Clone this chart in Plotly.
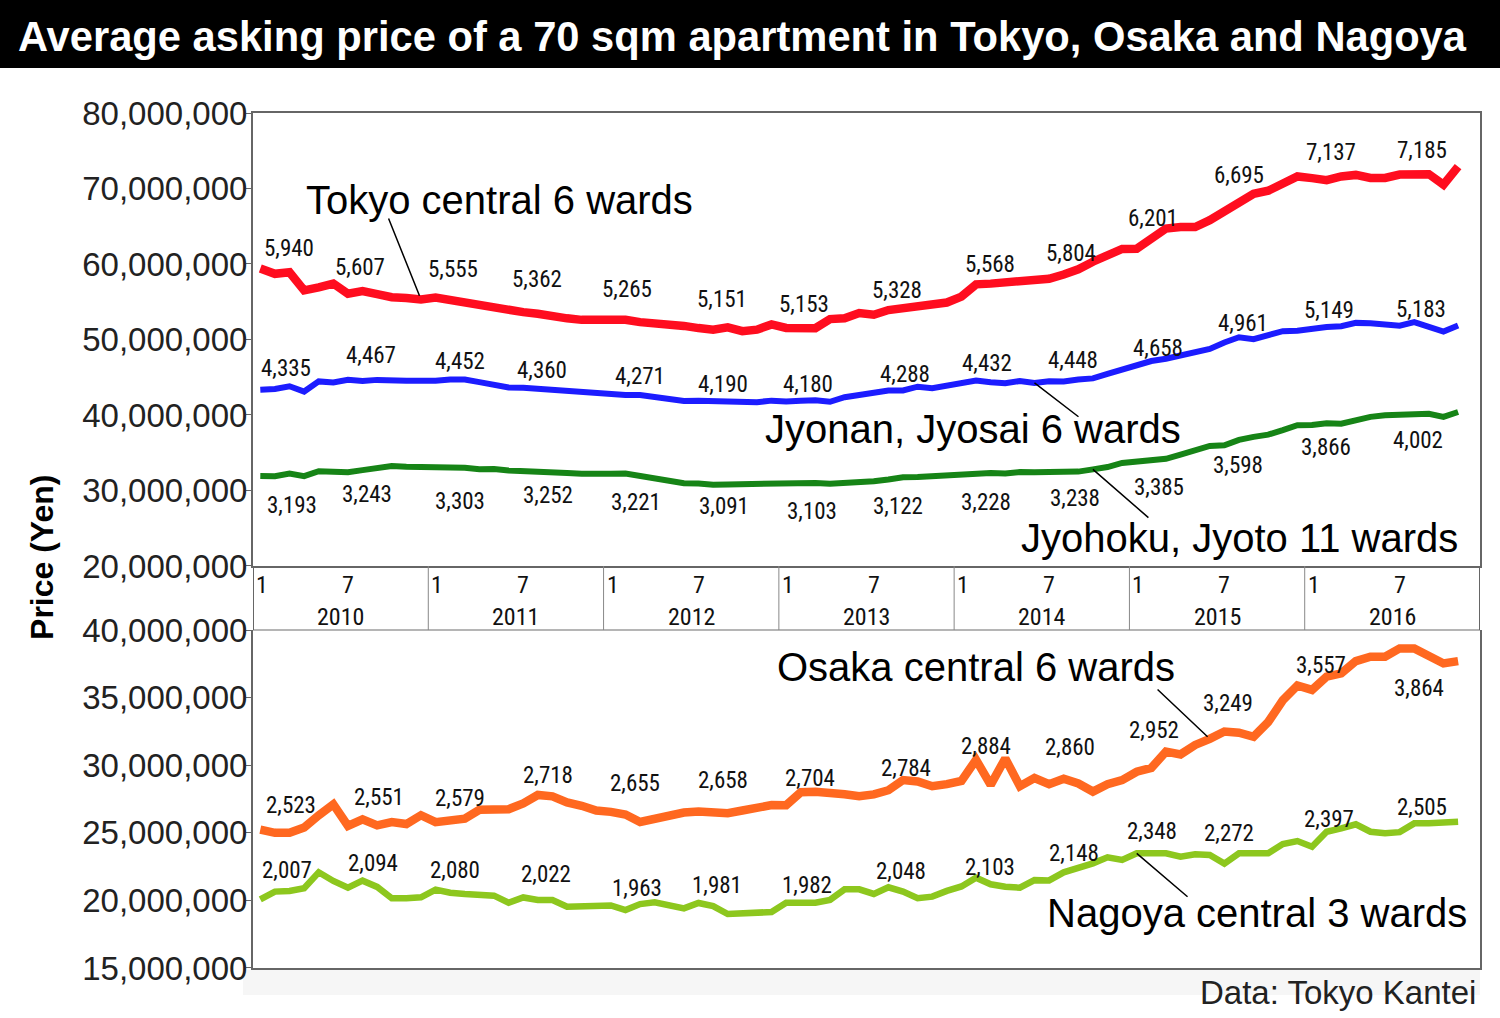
import plotly.graph_objects as go

# ---------------- data ----------------
years = [2010, 2011, 2012, 2013, 2014, 2015, 2016]
months = [f"{y}-{m:02d}" for y in years for m in range(1, 13)][:83]   # Jan 2010 .. Nov 2016

# million yen
tokyo6 = [59.40, 58.7, 58.9, 56.5, 56.9, 57.4, 56.07, 56.4, 56.0, 55.6, 55.5, 55.3,
          55.55, 55.2, 55.1, 54.7, 54.4, 53.8, 53.62, 53.4, 53.0, 52.8, 52.6, 52.6,
          52.65, 52.6, 52.3, 52.2, 52.1, 51.8, 51.51, 51.3, 51.6, 51.1, 51.3, 52.0,
          51.53, 51.5, 51.5, 52.7, 52.8, 53.5, 53.28, 53.9, 54.1, 54.5, 54.7, 54.9,
          55.68, 57.3, 57.4, 57.5, 57.8, 57.7, 58.04, 58.6, 59.3, 60.3, 61.3, 62.0,
          62.01, 63.4, 64.7, 64.9, 64.9, 65.8, 66.95, 68.3, 69.3, 69.7, 70.7, 71.6,
          71.37, 71.1, 71.6, 71.8, 71.4, 71.4, 71.85, 72.0, 71.9, 70.5, 72.9]
jyonan6 = [43.35, 43.45, 43.8, 43.1, 44.45, 44.3, 44.67, 44.5, 44.65, 44.55, 44.55, 44.55,
           44.52, 44.7, 44.7, 44.35, 43.95, 43.65, 43.60, 43.45, 43.35, 43.25, 43.0, 42.85,
           42.71, 42.65, 42.65, 42.35, 42.25, 41.85, 41.90, 41.85, 41.75, 41.75, 41.7, 41.9,
           41.80, 41.9, 41.95, 41.75, 42.35, 42.65, 42.88, 43.25, 43.25, 43.75, 43.55, 43.95,
           44.32, 44.55, 44.35, 44.2, 44.5, 44.25, 44.48, 44.45, 44.7, 44.85, 45.45, 46.05,
           46.58, 47.15, 47.45, 47.85, 48.45, 48.75, 49.61, 50.3, 50.05, 50.55, 51.1, 51.15,
           51.49, 51.65, 51.75, 52.2, 52.15, 51.95, 51.83, 52.3, 51.75, 51.05, 51.85]
jyohoku11 = [31.93, 31.9, 32.25, 31.9, 32.55, 32.4, 32.43, 32.7, 32.95, 33.25, 33.15, 33.1,
             33.03, 33.15, 33.0, 32.8, 32.85, 32.65, 32.52, 32.55, 32.45, 32.3, 32.2, 32.15,
             32.21, 32.25, 31.95, 31.5, 31.2, 30.95, 30.91, 30.75, 30.8, 30.85, 30.9, 30.95,
             31.03, 31.05, 31.0, 30.9, 30.95, 31.05, 31.22, 31.45, 31.75, 31.8, 31.9, 32.0,
             32.28, 32.35, 32.3, 32.25, 32.45, 32.4, 32.38, 32.4, 32.5, 32.8, 33.1, 33.65,
             33.85, 34.0, 34.2, 34.75, 35.25, 35.9, 35.98, 36.7, 37.1, 37.4, 38.0, 38.65,
             38.66, 38.9, 38.85, 39.35, 39.75, 39.95, 40.02, 40.05, 40.15, 39.75, 40.4]
osaka6 = [25.23, 25.0, 25.0, 25.4, 26.3, 27.1, 25.51, 26.0, 25.55, 25.8, 25.65, 26.3,
          25.79, 25.85, 26.05, 26.7, 26.8, 26.75, 27.18, 27.8, 27.7, 27.25, 27.0, 26.65,
          26.55, 26.35, 25.8, 26.05, 26.2, 26.5, 26.58, 26.56, 26.45, 26.65, 26.8, 27.05,
          27.04, 28.0, 28.04, 28.0, 27.85, 27.7, 27.84, 28.15, 28.9, 28.8, 28.45, 28.6,
          28.84, 30.4, 28.55, 30.5, 28.45, 29.05, 28.60, 29.0, 28.65, 28.05, 28.6, 28.9,
          29.52, 29.8, 31.0, 30.8, 31.5, 31.95, 32.49, 32.4, 32.1, 33.2, 34.8, 35.9,
          35.57, 36.55, 36.8, 37.7, 38.03, 38.03, 38.64, 38.64, 38.03, 37.53, 37.7]
nagoya3 = [20.07, 20.65, 20.7, 20.9, 22.08, 21.44, 20.94, 21.46, 21.0, 20.16, 20.16, 20.23,
           20.80, 20.57, 20.47, 20.38, 20.35, 19.83, 20.22, 20.03, 20.03, 19.53, 19.53, 19.53,
           19.63, 19.29, 19.73, 19.86, 19.66, 19.41, 19.81, 19.58, 18.99, 19.04, 19.14, 19.14,
           19.82, 19.83, 19.83, 20.03, 20.82, 20.82, 20.48, 20.97, 20.65, 20.16, 20.28, 20.7,
           21.03, 21.68, 21.19, 21.01, 20.94, 21.5, 21.48, 22.08, 22.37, 22.74, 23.19, 22.99,
           23.48, 23.53, 23.48, 23.23, 23.41, 23.36, 22.72, 23.48, 23.53, 23.48, 24.17, 24.39,
           23.97, 25.08, 25.33, 25.63, 25.08, 24.96, 25.05, 25.7, 25.7, 25.78, 25.82]

# value labels (unit: 10,000 yen) at January / July
label_months = ["2010-01", "2010-07", "2011-01", "2011-07", "2012-01", "2012-07", "2013-01",
                "2013-07", "2014-01", "2014-07", "2015-01", "2015-07", "2016-01", "2016-07"]
tokyo6_labels = [5940, 5607, 5555, 5362, 5265, 5151, 5153, 5328, 5568, 5804, 6201, 6695, 7137, 7185]
jyonan6_labels = [4335, 4467, 4452, 4360, 4271, 4190, 4180, 4288, 4432, 4448, 4658, 4961, 5149, 5183]
jyohoku11_labels = [3193, 3243, 3303, 3252, 3221, 3091, 3103, 3122, 3228, 3238, 3385, 3598, 3866, 4002]
osaka6_labels = [2523, 2551, 2579, 2718, 2655, 2658, 2704, 2784, 2884, 2860, 2952, 3249, 3557, 3864]
nagoya3_labels = [2007, 2094, 2080, 2022, 1963, 1981, 1982, 2048, 2103, 2148, 2348, 2272, 2397, 2505]

top_ticks = [20000000, 30000000, 40000000, 50000000, 60000000, 70000000, 80000000]
bottom_ticks = [15000000, 20000000, 25000000, 30000000, 35000000, 40000000]

# ---------------- styling ----------------
LABEL_FONT = "Liberation Sans Narrow, Roboto Condensed, Liberation Sans, Arial"
MAIN_FONT = "Liberation Sans, Arial, Helvetica"
AXIS_COL = "#666666"

x = list(range(len(months)))
lab_idx = [months.index(m) for m in label_months]

# pixel offsets of the value labels relative to their data point (xshift, yshift)
series = [
    dict(name="Tokyo central 6 wards", vals=tokyo6, labels=tokyo6_labels, color="#ff0d1f", width=8.5,
         xa="x", ya="y",
         dx=[29, 12, 17, 14, 16, 23, 18, 23, 29, 21.5, 16, 15, 19, 22],
         dy=[20.5, 26, 27.6, 33, 30, 29, 23, 24, 32, 25, 30, 36, 25.7, 24]),
    dict(name="Jyonan, Jyosai 6 wards", vals=jyonan6, labels=jyonan6_labels, color="#1c1cff", width=6,
         xa="x", ya="y",
         dx=[26, 23, 24.4, 19, 29, 24, 22, 30.7, 26, 23.5, 21.3, 19, 16.5, 21.4],
         dy=[21, 24.4, 19.7, 17.8, 17.8, 16, 16.7, 18.3, 18.6, 21, 16.6, 19.4, 18, 15.7]),
    dict(name="Jyohoku, Jyoto 11 wards", vals=jyohoku11, labels=jyohoku11_labels, color="#168416", width=6,
         xa="x", ya="y",
         dx=[31.7, 19, 24.4, 25, 25, 25.5, 25.5, 24, 25, 26, 22, 14, 13.5, 18],
         dy=[-29.4, -22.6, -33.5, -23.6, -28.6, -23.1, -28.6, -25.7, -28.9, -25.8, -25.9, -20, -22, -25.8]),
    dict(name="Osaka central 6 wards", vals=osaka6, labels=osaka6_labels, color="#ff6820", width=8.5,
         xa="x2", ya="y2",
         dx=[31, 31, 24.4, 25, 24, 24, 24, 32, 25, 21, 17, 4, 9, 19.4],
         dy=[24, 28, 23.4, 28, 28, 31, 26.5, 25.7, 34, 36.6, 41, 27.7, 24.6, -39.6]),
    dict(name="Nagoya central 3 wards", vals=nagoya3, labels=nagoya3_labels, color="#8dc71e", width=6.5,
         xa="x2", ya="y2",
         dx=[27, 25, 19.4, 23, 26.6, 18.5, 21, 27, 29, 25, 15, 5, 17, 22],
         dy=[29, 24, 19, 22.7, 17.4, 17.7, 17.5, 22.2, 18.5, 26.6, 22.3, 30.6, 27.7, 25]),
]

fig = go.Figure()
annotations = []

for s in series:
    fig.add_trace(go.Scatter(
        x=x, y=[v * 1e6 for v in s["vals"]], mode="lines", name=s["name"],
        xaxis=s["xa"], yaxis=s["ya"],
        line=dict(color=s["color"], width=s["width"]), hoverinfo="skip"))
    for k, i in enumerate(lab_idx):
        lab = s["labels"][k]
        annotations.append(dict(
            x=i, y=lab * 10000, xref=s["xa"], yref=s["ya"],
            text=f"{lab:,}", showarrow=False,
            xshift=s["dx"][k], yshift=s["dy"][k],
            xanchor="center", yanchor="middle",
            font=dict(family=LABEL_FONT, size=23, color="#111111")))

# series names (paper coords) and leader lines
names = [
    ("Tokyo central 6 wards", 0.2005, 0.8982),
    ("Jyonan, Jyosai 6 wards", 0.5872, 0.6304),
    ("Jyohoku, Jyoto 11 wards", 0.8036, 0.5029),
    ("Osaka central 6 wards", 0.5896, 0.3526),
    ("Nagoya central 3 wards", 0.8183, 0.0643),
]
for txt, px, py in names:
    annotations.append(dict(x=px, y=py, xref="paper", yref="paper", text=txt, showarrow=False,
                            xanchor="center", yanchor="middle",
                            font=dict(family=MAIN_FONT, size=40, color="#000000")))

leaders = [  # (series index, month, tail dx, tail dy, standoff)
    (0, "2010-12", -33, -82.5, 4),
    (1, "2014-06", 45.5, 35, 0),
    (2, "2014-10", 57, 49.6, 0),
    (3, "2015-06", -53.7, -50.8, 3),
    (4, "2015-01", 52.3, 44.7, 0),
]
for si, m, ax, ay, so in leaders:
    s = series[si]
    i = months.index(m)
    annotations.append(dict(x=i, y=s["vals"][i] * 1e6, xref=s["xa"], yref=s["ya"], text="",
                            showarrow=True, arrowhead=0, arrowwidth=1.5, arrowcolor="#000000",
                            ax=ax, ay=ay, standoff=so))

# x-axis band labels
BAND_TOP, BAND_BOT = 0.4702, 0.3953
for k, yr in enumerate(years):
    annotations.append(dict(x=12 * k - 0.5, y=0.448, xref="x", yref="paper", text="1", showarrow=False,
                            xanchor="left", yanchor="middle", xshift=1,
                            font=dict(family=LABEL_FONT, size=24, color="#111111")))
    annotations.append(dict(x=12 * k + 6, y=0.448, xref="x", yref="paper", text="7", showarrow=False,
                            xanchor="center", yanchor="middle",
                            font=dict(family=LABEL_FONT, size=24, color="#111111")))
    annotations.append(dict(x=12 * k + 5.5, y=0.4105, xref="x", yref="paper", text=str(yr), showarrow=False,
                            xanchor="center", yanchor="middle",
                            font=dict(family=LABEL_FONT, size=24, color="#111111")))

# title, axis title, source
annotations.append(dict(x=0.3993, y=1.0889, xref="paper", yref="paper",
                        text="<b>Average asking price of a 70 sqm apartment in Tokyo, Osaka and Nagoya</b>",
                        showarrow=False, xanchor="center", yanchor="middle",
                        font=dict(family=MAIN_FONT, size=41.7, color="#ffffff")))
annotations.append(dict(x=-0.172, y=0.4807, xref="paper", yref="paper", text="<b>Price (Yen)</b>",
                        textangle=-90, showarrow=False, xanchor="center", yanchor="middle",
                        font=dict(family=MAIN_FONT, size=32, color="#000000")))
annotations.append(dict(x=0.9984, y=-0.0292, xref="paper", yref="paper", text="Data: Tokyo Kantei",
                        showarrow=False, xanchor="right", yanchor="middle",
                        font=dict(family=MAIN_FONT, size=33, color="#222222")))

shapes = [
    dict(type="rect", xref="paper", yref="paper", x0=-0.2062, x1=1.0163, y0=1.0526, y1=1.14,
         fillcolor="#000000", line=dict(width=0), layer="above"),
    dict(type="rect", xref="paper", yref="paper", x0=-0.0082, x1=1.0, y0=-0.0316, y1=-0.0023,
         fillcolor="#f6f6f6", line=dict(width=0), layer="below"),
    dict(type="line", xref="paper", yref="paper", x0=0, x1=1, y0=BAND_BOT, y1=BAND_BOT,
         line=dict(color="#b5b5b5", width=2)),
]
for k in range(len(years) + 1):
    edge = k in (0, len(years))
    shapes.append(dict(type="line", xref="x", yref="paper", x0=12 * k - 0.5, x1=12 * k - 0.5,
                       y0=BAND_BOT, y1=BAND_TOP,
                       line=dict(color=AXIS_COL if edge else "#888888", width=2 if edge else 1)))

common_x = dict(range=[-0.5, 83.5], showgrid=False, zeroline=False, showticklabels=False, ticks="",
                fixedrange=True)
ytick_common = dict(ticks="outside", ticklen=5, tickcolor=AXIS_COL, showline=True, mirror=True,
                    linecolor=AXIS_COL, linewidth=2, showgrid=False, zeroline=False,
                    ticklabelstandoff=-8, fixedrange=True,
                    tickfont=dict(family=MAIN_FONT, size=33, color="#222222"))
fig.update_layout(
    width=1500, height=1018,
    margin=dict(l=253, r=20, t=113, b=50),
    paper_bgcolor="#ffffff", plot_bgcolor="#ffffff",
    showlegend=False,
    xaxis=dict(**common_x, domain=[0, 1], anchor="y", showline=True, mirror=True,
               linecolor=AXIS_COL, linewidth=2),
    xaxis2=dict(**common_x, domain=[0, 1], anchor="y2", showline=True, mirror=False,
                linecolor=AXIS_COL, linewidth=2),
    yaxis=dict(domain=[BAND_TOP, 1], range=[20e6, 80e6], tickvals=top_ticks,
               ticktext=[f"{v:,}" for v in top_ticks], **ytick_common),
    yaxis2=dict(domain=[0, BAND_BOT], range=[15e6, 40e6], tickvals=bottom_ticks,
                ticktext=[f"{v:,}" for v in bottom_ticks], **ytick_common),
    annotations=annotations,
    shapes=shapes,
)

fig.write_html("out.html", config={"displayModeBar": False},
               post_script="document.body.style.margin='0';")
